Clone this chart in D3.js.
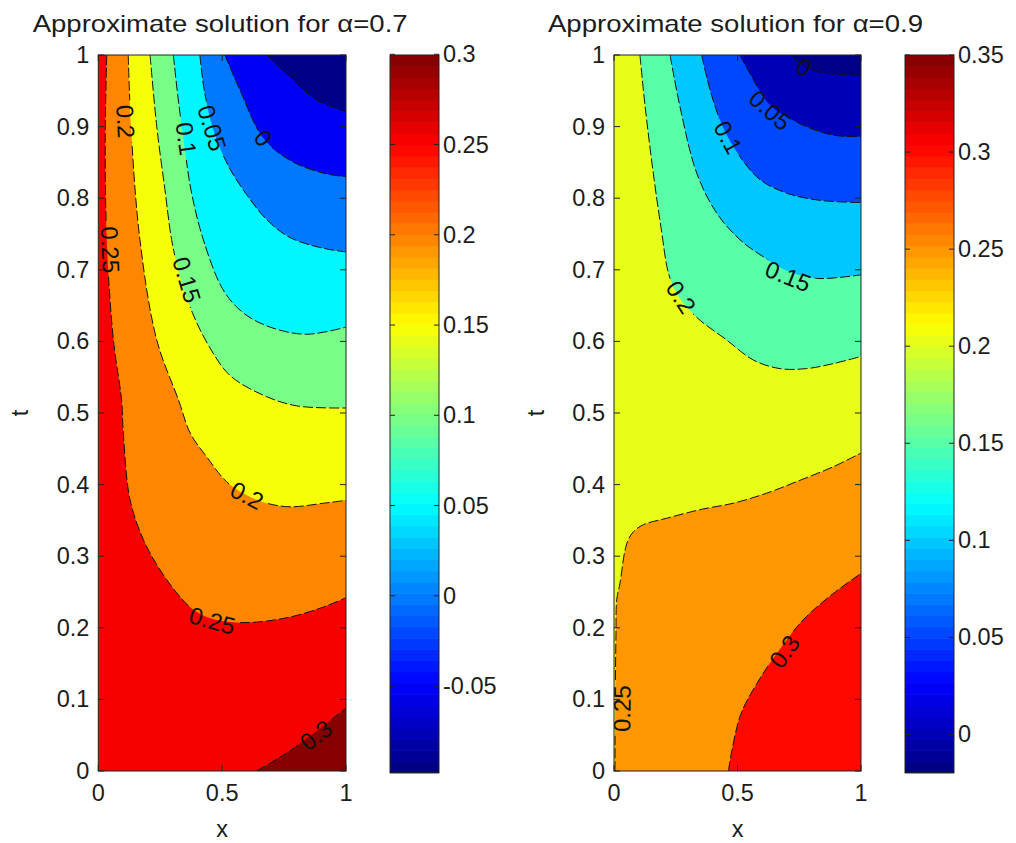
<!DOCTYPE html>
<html><head><meta charset="utf-8">
<script src="https://cdn.jsdelivr.net/npm/d3@7"></script>
<style>
body{margin:0;background:#fff}
svg{display:block}
text{font-family:"Liberation Sans",Arial,Helvetica,sans-serif;fill:#1c1c1c}
</style>
</head><body><svg id="c" width="1016" height="843"></svg>
<script>
// ---------------- data ----------------
const xTicks = [0, 0.5, 1];
const xTickLabels = ["0", "0.5", "1"];
const tTicks = [0, 0.1, 0.2, 0.3, 0.4, 0.5, 0.6, 0.7, 0.8, 0.9, 1];
const tTickLabels = ["0", "0.1", "0.2", "0.3", "0.4", "0.5", "0.6", "0.7", "0.8", "0.9", "1"];

// panel A : alpha = 0.7
const titleA = "Approximate solution for \u03B1=0.7";
const levelsA = [-0.05, 0, 0.05, 0.1, 0.15, 0.2, 0.25, 0.3];
const climA = [-0.098, 0.2996];
const cbTicksA = [-0.05, 0, 0.05, 0.1, 0.15, 0.2, 0.25, 0.3];
const cbTickLabelsA = ["-0.05", "0", "0.05", "0.1", "0.15", "0.2", "0.25", "0.3"];
// contour lines [x, t]; higher values lie to the right of the direction of travel
const cA_m005 = [[0.68,1],[0.76,0.974],[0.882,0.937],[1,0.921]];
const cA_000  = [[0.511,1],[0.572,0.951],[0.666,0.884],[0.774,0.853],[0.909,0.835],[1,0.83]];
const cA_005  = [[0.41,1],[0.428,0.95],[0.465,0.895],[0.525,0.845],[0.599,0.805],[0.68,0.77],[0.774,0.745],[0.909,0.73],[1,0.725]];
const cA_010  = [[0.303,1],[0.322,0.94],[0.345,0.88],[0.375,0.81],[0.424,0.742],[0.504,0.672],[0.585,0.64],[0.693,0.62],[0.84,0.61],[1,0.62]];
const cA_015  = [[0.209,1],[0.236,0.9],[0.269,0.812],[0.296,0.742],[0.33,0.69],[0.38,0.64],[0.444,0.595],[0.53,0.553],[0.665,0.525],[0.8,0.51],[1,0.507]];
const cA_020  = [[0.121,1],[0.132,0.9],[0.168,0.742],[0.236,0.602],[0.324,0.518],[0.371,0.472],[0.437,0.439],[0.518,0.404],[0.6,0.385],[0.68,0.374],[0.774,0.369],[0.909,0.374],[1,0.378]];
const cA_025  = [[0.034,1],[0.028,0.88],[0.034,0.742],[0.061,0.602],[0.094,0.518],[0.101,0.472],[0.128,0.379],[0.182,0.323],[0.249,0.281],[0.316,0.249],[0.37,0.229],[0.437,0.215],[0.531,0.208],[0.639,0.208],[0.774,0.215],[0.909,0.229],[1,0.242]];
const cA_030  = [[0.639,0],[0.76,0.025],[0.879,0.055],[1,0.088]];
// contour labels [level, x, t]
const labelsA = [[0.2,0.11,0.907],[0.25,0.048,0.728],[0.1,0.355,0.883],[0.05,0.459,0.898],[0,0.666,0.884],
                 [0.15,0.357,0.686],[0.2,0.6,0.385],[0.25,0.46,0.21],[0.3,0.879,0.05]];

// panel B : alpha = 0.9
const titleB = "Approximate solution for \u03B1=0.9";
const levelsB = [0, 0.05, 0.1, 0.15, 0.2, 0.25, 0.3];
const climB = [-0.0197, 0.35];
const cbTicksB = [0, 0.05, 0.1, 0.15, 0.2, 0.25, 0.3, 0.35];
const cbTickLabelsB = ["0", "0.05", "0.1", "0.15", "0.2", "0.25", "0.3", "0.35"];
const cB_000 = [[0.72,1],[0.769,0.983],[0.85,0.975],[1,0.972]];
const cB_005 = [[0.51,1],[0.551,0.974],[0.632,0.93],[0.753,0.904],[0.888,0.888],[1,0.886]];
const cB_010 = [[0.355,1],[0.389,0.951],[0.44,0.9],[0.51,0.858],[0.591,0.826],[0.699,0.807],[0.834,0.797],[1,0.794]];
const cB_015 = [[0.227,1],[0.267,0.928],[0.335,0.835],[0.416,0.779],[0.51,0.742],[0.605,0.718],[0.705,0.698],[0.82,0.688],[1,0.693]];
const cB_020 = [[0.105,1],[0.126,0.928],[0.159,0.835],[0.19,0.76],[0.225,0.69],[0.271,0.658],[0.34,0.632],[0.456,0.602],[0.564,0.574],[0.672,0.562],[0.78,0.562],[0.888,0.569],[1,0.579]];
const cB_025 = [[0.004,0],[0.005,0.1],[0.008,0.19],[0.011,0.239],[0.024,0.262],[0.045,0.309],[0.058,0.323],[0.078,0.334],[0.119,0.344],[0.213,0.353],[0.348,0.365],[0.483,0.374],[0.618,0.388],[0.753,0.406],[0.888,0.425],[1,0.444]];
const cB_030 = [[0.463,0],[0.51,0.076],[0.578,0.122],[0.699,0.183],[0.78,0.216],[0.888,0.248],[1,0.276]];
const labelsB = [[0,0.769,0.983],[0.05,0.632,0.923],[0.1,0.462,0.885],[0.15,0.705,0.691],[0.2,0.271,0.662],
                 [0.25,0.032,0.087],[0.3,0.69,0.167]];

// ---------------- drawing ----------------
const svg = d3.select("#c");
const NC = 64;
const clamp01 = v => Math.max(0, Math.min(1, v));
const jet = v => d3.rgb(255*clamp01(1.5-Math.abs(4*v-3)), 255*clamp01(1.5-Math.abs(4*v-2)), 255*clamp01(1.5-Math.abs(4*v-1))).formatHex();
function cmapColor(val, clim) {
  const v = (val - clim[0]) / (clim[1] - clim[0]);
  const i = Math.max(0, Math.min(NC-1, Math.floor(v*NC + 1e-9)));
  return jet((i + 0.5) / NC);
}

let uid = 0;
function panel(cfg) {
  const {x0, x1, y0, y1, levels, lines, labels, clim, cbx0, cbx1, cbTicks, cbTickLabels, title} = cfg;
  const id = uid++;
  const xs = d3.scaleLinear().domain([0,1]).range([x0,x1]);
  const ys = d3.scaleLinear().domain([0,1]).range([y1,y0]);
  const g = svg.append("g");
  const defs = g.append("defs");
  defs.append("clipPath").attr("id","clip"+id).append("rect")
    .attr("x",x0).attr("y",y0).attr("width",x1-x0).attr("height",y1-y0);
  const plot = g.append("g").attr("clip-path",`url(#clip${id})`);
  plot.append("rect").attr("x",x0).attr("y",y0).attr("width",x1-x0).attr("height",y1-y0)
    .attr("fill", cmapColor(clim[0], clim));

  const lineGen = d3.line().x(d=>xs(d[0])).y(d=>ys(d[1])).curve(d3.curveCatmullRom.alpha(0.5));
  const perim = p => { const [x,t] = p, e = 1e-6;
    if (t >= 1-e) return x; if (x >= 1-e) return 1 + (1-t); if (t <= e) return 2 + (1-x); return 3 + t; };
  const corners = [[1,[1,1]],[2,[1,0]],[3,[0,0]],[4,[0,1]],[5,[1,1]],[6,[1,0]],[7,[0,0]],[8,[0,1]]];
  levels.forEach((L,k) => {
    const pts = lines[k];
    const sE = perim(pts[pts.length-1]);
    let sS = perim(pts[0]); if (sS <= sE) sS += 4;
    let d = lineGen(pts);
    corners.forEach(([s,c]) => { if (s > sE && s < sS) d += `L${xs(c[0])},${ys(c[1])}`; });
    d += "Z";
    plot.append("path").attr("d", d).attr("fill", cmapColor(L, clim));
  });

  // label geometry
  const labelFont = 24;
  const labInfo = labels.map(([L, lx, lt]) => {
    const k = levels.indexOf(L);
    const tmp = plot.append("path").attr("d", lineGen(lines[k])).attr("fill","none").attr("stroke","none");
    const node = tmp.node(), len = node.getTotalLength();
    const px = xs(lx), py = ys(lt);
    let best = 0, bd = Infinity;
    for (let s = 0; s <= len; s += 1) { const p = node.getPointAtLength(s); const dd = (p.x-px)**2 + (p.y-py)**2; if (dd < bd) { bd = dd; best = s; } }
    const a = node.getPointAtLength(Math.max(0,best-6)), b = node.getPointAtLength(Math.min(len,best+6));
    let ang = Math.atan2(b.y-a.y, b.x-a.x) * 180 / Math.PI;
    if (ang > 90) ang -= 180; if (ang <= -90) ang += 180;
    tmp.remove();
    const txt = String(L);
    return {px, py, ang, txt, w: txt.length * labelFont * 0.5 + 6};
  });

  const mask = defs.append("mask").attr("id","mask"+id).attr("maskUnits","userSpaceOnUse")
    .attr("x",0).attr("y",0).attr("width",1016).attr("height",843);
  mask.append("rect").attr("x",0).attr("y",0).attr("width",1016).attr("height",843).attr("fill","#fff");
  labInfo.forEach(l => {
    mask.append("rect").attr("x",-l.w/2).attr("y",-8).attr("width",l.w).attr("height",16).attr("fill","#000")
      .attr("transform",`translate(${l.px},${l.py}) rotate(${l.ang})`);
  });
  const lg = plot.append("g").attr("mask",`url(#mask${id})`);
  levels.forEach((L,k) => {
    lg.append("path").attr("d", lineGen(lines[k])).attr("fill","none")
      .attr("stroke","#111").attr("stroke-width",1).attr("stroke-dasharray","10,3");
  });
  labInfo.forEach(l => {
    plot.append("text").attr("transform",`translate(${l.px},${l.py}) rotate(${l.ang})`)
      .attr("text-anchor","middle").attr("dominant-baseline","central")
      .attr("font-size",labelFont).style("fill","#111").text(l.txt);
  });

  // axes frame and ticks
  g.append("rect").attr("x",x0).attr("y",y0).attr("width",x1-x0).attr("height",y1-y0)
    .attr("fill","none").attr("stroke","#222").attr("stroke-width",1);
  const tk = 6;
  tTicks.forEach((t,i) => {
    const y = ys(t);
    g.append("line").attr("x1",x0).attr("x2",x0+tk).attr("y1",y).attr("y2",y).attr("stroke","#222");
    g.append("line").attr("x1",x1).attr("x2",x1-tk).attr("y1",y).attr("y2",y).attr("stroke","#222");
    g.append("text").attr("x",x0-9).attr("y",y).attr("text-anchor","end").attr("dominant-baseline","central")
      .attr("font-size",23.5).text(tTickLabels[i]);
  });
  xTicks.forEach((x,i) => {
    const xp = xs(x);
    g.append("line").attr("x1",xp).attr("x2",xp).attr("y1",y1).attr("y2",y1-tk).attr("stroke","#222");
    g.append("line").attr("x1",xp).attr("x2",xp).attr("y1",y0).attr("y2",y0+tk).attr("stroke","#222");
    g.append("text").attr("x",xp).attr("y",801).attr("text-anchor","middle").attr("font-size",23.5).text(xTickLabels[i]);
  });
  g.append("text").attr("x",(x0+x1)/2).attr("y",837).attr("text-anchor","middle").attr("font-size",23.5).text("x");
  g.append("text").attr("transform",`translate(${x0-70},${(y0+y1)/2}) rotate(-90)`).attr("text-anchor","middle")
    .attr("font-size",23.5).text("t");
  g.append("text").attr("x",(x0+x1)/2 - 2).attr("y",32).attr("text-anchor","middle").attr("font-size",24)
    .attr("textLength",375).attr("lengthAdjust","spacingAndGlyphs").text(title);

  // colorbar
  const cy0 = 55, cy1 = 772.7;
  const cbs = d3.scaleLinear().domain(clim).range([cy1, cy0]);
  for (let i = 0; i < NC; i++) {
    const va = clim[0] + (clim[1]-clim[0]) * i / NC, vb = clim[0] + (clim[1]-clim[0]) * (i+1) / NC;
    g.append("rect").attr("x",cbx0).attr("width",cbx1-cbx0).attr("y",cbs(vb)).attr("height",cbs(va)-cbs(vb)+0.6)
      .attr("fill", jet((i+0.5)/NC));
  }
  g.append("rect").attr("x",cbx0).attr("y",cy0).attr("width",cbx1-cbx0).attr("height",cy1-cy0)
    .attr("fill","none").attr("stroke","#222");
  cbTicks.forEach((v,i) => {
    const y = cbs(v);
    g.append("line").attr("x1",cbx0).attr("x2",cbx0+5).attr("y1",y).attr("y2",y).attr("stroke","#222");
    g.append("line").attr("x1",cbx1).attr("x2",cbx1-5).attr("y1",y).attr("y2",y).attr("stroke","#222");
    g.append("text").attr("x",cbx1+4).attr("y",y).attr("dominant-baseline","central").attr("font-size",23.5).text(cbTickLabels[i]);
  });
}

panel({x0:98.3, x1:346, y0:55, y1:771, levels:levelsA,
  lines:[cA_m005,cA_000,cA_005,cA_010,cA_015,cA_020,cA_025,cA_030], labels:labelsA, clim:climA,
  cbx0:390, cbx1:439, cbTicks:cbTicksA, cbTickLabels:cbTickLabelsA, title:titleA});
panel({x0:614, x1:861, y0:55, y1:771, levels:levelsB,
  lines:[cB_000,cB_005,cB_010,cB_015,cB_020,cB_025,cB_030], labels:labelsB, clim:climB,
  cbx0:905, cbx1:954, cbTicks:cbTicksB, cbTickLabels:cbTickLabelsB, title:titleB});
</script>
</body></html>
